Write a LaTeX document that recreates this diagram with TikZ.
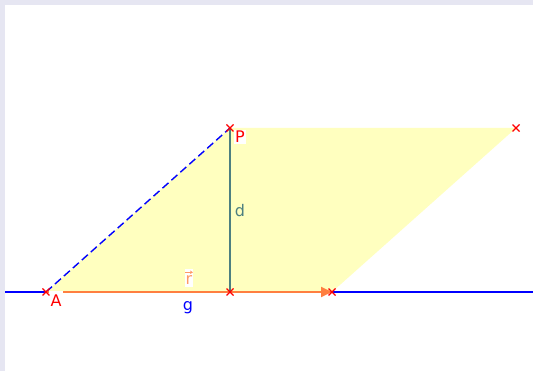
\documentclass[tikz,border=0pt]{standalone}
\usepackage{fontspec}
\setmainfont{DejaVu Sans}
\usetikzlibrary{arrows.meta,calc}
\definecolor{bord}{RGB}{230,230,242}
\definecolor{gblue}{RGB}{0,0,255}
\definecolor{rorange}{RGB}{255,127,64}
\definecolor{rlight}{RGB}{255,153,102}
\definecolor{dteal}{RGB}{77,128,128}
\definecolor{pfill}{RGB}{255,255,191}
\definecolor{ptred}{RGB}{255,0,0}
\begin{document}
\begin{tikzpicture}[x=1pt,y=-1pt,
  lbl/.style={font=\fontsize{16}{18}\selectfont, inner sep=1pt, fill=white},
  cross/.style={ptred, line width=1.4pt},
]
\useasboundingbox (0,0) rectangle (533,371);
\fill[bord] (0,0) rectangle (533,371);
\fill[white] (5,5) rectangle (533,371);
\coordinate (A) at (46,292);
\coordinate (P) at (230,128);
\coordinate (F) at (230,292);
\coordinate (E) at (332,292);
\coordinate (Q) at (516,128);
\coordinate (gL) at (5,292);
\coordinate (gR) at (533,292);
% parallelogram
\fill[pfill] (A) -- (E) -- (Q) -- (P) -- cycle;
% line g
\draw[gblue, line width=1.4pt] (gL) -- (gR);
% dashed AP
\draw[gblue, line width=1.4pt, dash pattern=on 8pt off 4pt] (A) -- (P);
% vector r
\draw[rorange, line width=1.8pt, -{Triangle[length=11pt,width=10pt]}] (A) -- (E);
% segment d
\draw[dteal, line width=1.8pt] (P) -- (F);
% labels
\node[lbl, text=ptred, minimum width=14pt, minimum height=20pt] (lA) at (56,301) {A};
\node[lbl, text=ptred] (lP) at (240,137) {P};
\node[lbl, text=dteal, fill=none] (ld) at (240,211) {d};
\node[lbl, text=rlight, text height=15pt, text depth=1pt] (lr) at (189,278) {r};
\draw[rlight, line width=0.9pt, -{Stealth[length=3pt,width=3.5pt]}] ($(lr.north)+(-4,3.5)$) -- ($(lr.north)+(4,3.5)$);
\node[lbl, text=gblue, fill=none] (lg) at (188,308) {g};
% crosses
\foreach \p in {A,P,F,E,Q}{
  \draw[cross] ($(\p)+(-3.5,-3.5)$) -- ($(\p)+(3.5,3.5)$);
  \draw[cross] ($(\p)+(-3.5,3.5)$) -- ($(\p)+(3.5,-3.5)$);
}
\end{tikzpicture}
\end{document}
